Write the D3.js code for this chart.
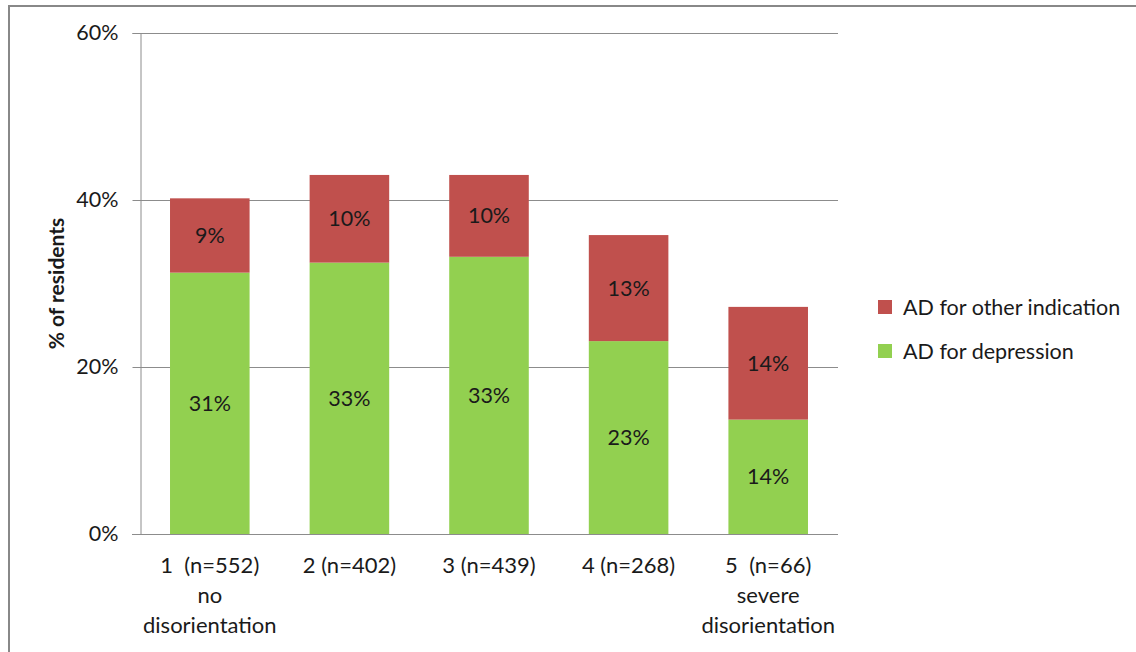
<!DOCTYPE html>
<html>
<head>
<meta charset="utf-8">
<script src="https://cdnjs.cloudflare.com/ajax/libs/d3/7.8.5/d3.min.js"></script>
<style>
  body { margin: 0; background: #fff; }
  svg text { font-family: Lato, "Open Sans", sans-serif; fill: #1a1a1a; white-space: pre; }
</style>
</head>
<body>
<div id="chart"></div>
<script>
// category labels (multi-line) and the two stacked series, in %
var categories = [
  ["1  (n=552)", "no", "disorientation"],
  ["2 (n=402)"],
  ["3 (n=439)"],
  ["4 (n=268)"],
  ["5  (n=66)", "severe", "disorientation"]
];
var depression = [31.3, 32.5, 33.2, 23.1, 13.7];
var otherIndication = [8.9, 10.5, 9.8, 12.7, 13.5];
var depressionLabels = ["31%", "33%", "33%", "23%", "14%"];
var otherLabels = ["9%", "10%", "10%", "13%", "14%"];
var yTicks = [0, 20, 40, 60];
var seriesNames = ["AD for other indication", "AD for depression"];
var colors = { depression: "#92D050", other: "#C0504D" };

var W = 1136, H = 652;
var margin = {top: 33, right: 298, bottom: 118, left: 140},
    width = W - margin.left - margin.right,
    height = H - margin.top - margin.bottom;

var svg = d3.select("#chart").append("svg")
    .attr("width", W)
    .attr("height", H);

// outer frame (cropped screenshot border)
svg.append("line").attr("x1", 8).attr("x2", W).attr("y1", 6).attr("y2", 6)
    .style("stroke", "#888").style("stroke-width", 2);
svg.append("line").attr("x1", 9).attr("x2", 9).attr("y1", 6).attr("y2", H)
    .style("stroke", "#888").style("stroke-width", 2);

var g = svg.append("g")
    .attr("transform", "translate(" + margin.left + "," + margin.top + ")");

var x = d3.scaleBand()
    .domain(d3.range(categories.length))
    .range([0, width])
    .paddingInner(0.43)
    .paddingOuter(0.215);

var y = d3.scaleLinear().domain([0, 60]).range([height, 0]);

// gridlines
g.selectAll(".grid").data(yTicks.filter(function(d) { return d > 0; }))
  .enter().append("line")
    .attr("x1", 0).attr("x2", width)
    .attr("y1", function(d) { return Math.round(y(d)) + 0.5; })
    .attr("y2", function(d) { return Math.round(y(d)) + 0.5; })
    .style("stroke", "#8c8c8c").style("stroke-width", 1);

// y axis
var yAxis = g.append("g")
    .attr("transform", "translate(0.5,0)")
    .call(d3.axisLeft(y).tickValues(yTicks).tickSize(8).tickPadding(14)
      .tickFormat(function(d) { return d + "%"; }));
yAxis.select(".domain").style("stroke", "#8c8c8c");
yAxis.selectAll(".tick line").style("stroke", "#8c8c8c");
yAxis.selectAll(".tick text").style("font-size", "21.5px").style("fill", "#1a1a1a")
    .style("font-family", "Lato, 'Open Sans', sans-serif");

// stacked bars
var bars = g.selectAll(".bar").data(categories).enter().append("g");
bars.append("rect")
    .attr("x", function(d, i) { return x(i); })
    .attr("width", x.bandwidth())
    .attr("y", function(d, i) { return y(depression[i]); })
    .attr("height", function(d, i) { return y(0) - y(depression[i]); })
    .style("fill", colors.depression);
bars.append("rect")
    .attr("x", function(d, i) { return x(i); })
    .attr("width", x.bandwidth())
    .attr("y", function(d, i) { return y(depression[i] + otherIndication[i]); })
    .attr("height", function(d, i) { return y(depression[i]) - y(depression[i] + otherIndication[i]); })
    .style("fill", colors.other);

// value labels
bars.append("text")
    .attr("x", function(d, i) { return x(i) + x.bandwidth() / 2; })
    .attr("y", function(d, i) { return y(depression[i] / 2); })
    .attr("dy", "0.35em")
    .attr("text-anchor", "middle")
    .style("font-size", "21.5px")
    .text(function(d, i) { return depressionLabels[i]; });
bars.append("text")
    .attr("x", function(d, i) { return x(i) + x.bandwidth() / 2; })
    .attr("y", function(d, i) { return y(depression[i] + otherIndication[i] / 2); })
    .attr("dy", "0.35em")
    .attr("text-anchor", "middle")
    .style("font-size", "21.5px")
    .text(function(d, i) { return otherLabels[i]; });

// x axis
g.append("line")
    .attr("x1", -8).attr("x2", width)
    .attr("y1", height + 0.5).attr("y2", height + 0.5)
    .style("stroke", "#8c8c8c");

var xl = g.selectAll(".xlab").data(categories).enter().append("text")
    .attr("text-anchor", "middle")
    .attr("transform", function(d, i) {
      return "translate(" + (x(i) + x.bandwidth() / 2) + "," + (height + 39) + ")";
    })
    .style("font-size", "22px");
xl.selectAll("tspan").data(function(d) { return d; }).enter().append("tspan")
    .attr("x", 0)
    .attr("y", function(d, j) { return j * 30; })
    .text(function(d) { return d; });

// y title
svg.append("text")
    .attr("transform", "translate(64," + (margin.top + height / 2) + ") rotate(-90)")
    .attr("text-anchor", "middle")
    .style("font-size", "21px")
    .style("font-weight", "bold")
    .text("% of residents");

// legend
var legendColors = [colors.other, colors.depression];
var legend = svg.selectAll(".legend").data(seriesNames).enter().append("g")
    .attr("transform", function(d, i) { return "translate(878," + (300 + i * 44) + ")"; });
legend.append("rect").attr("width", 14).attr("height", 14)
    .style("fill", function(d, i) { return legendColors[i]; });
legend.append("text")
    .attr("x", 25).attr("y", 7).attr("dy", "0.35em")
    .style("font-size", "21.5px")
    .text(function(d) { return d; });
</script>
</body>
</html>
